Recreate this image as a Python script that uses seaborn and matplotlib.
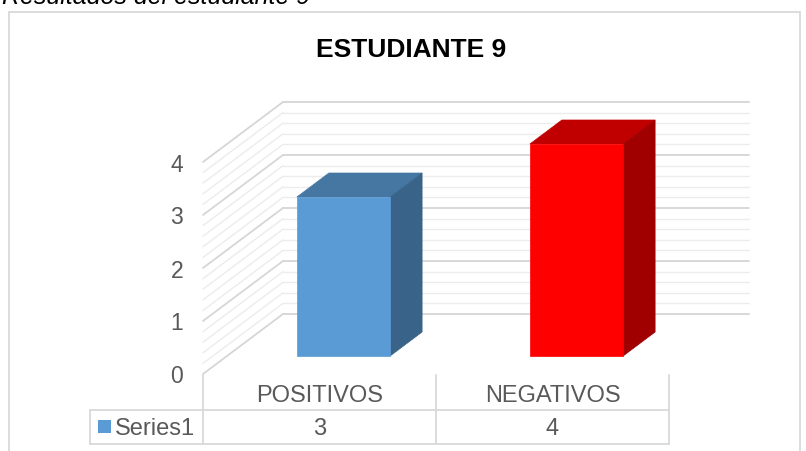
import matplotlib
matplotlib.use("Agg")
import matplotlib.pyplot as plt
import seaborn as sns
import numpy as np
from matplotlib.patches import Polygon, Rectangle

# datos del grafico
categorias = ["POSITIVOS", "NEGATIVOS"]
valores = [3, 4]
serie = "Series1"
titulo = "ESTUDIANTE 9"
leyenda_fig = "Resultados del estudiante 9"
ticks_y = [0, 1, 2, 3, 4]

caras_frente = ["#5B9BD5", "#FF0000"]
caras_arriba = ["#4677A2", "#C00000"]
caras_lado = ["#396389", "#A00000"]

sns.set_theme(style="white")
plt.rcParams['font.family'] = ['Liberation Sans', 'DejaVu Sans']

W, H = 806, 452
fig = plt.figure(figsize=(W / 100, H / 100), dpi=100)

# plano frontal: x de -0.5 a 1.5 -> px 203..669 ; y 0..4 -> px 375..163
ax = fig.add_axes([203 / W, 1 - 375 / H, 466 / W, 212 / H])
ax.set_xlim(-0.5, 1.5)
ax.set_ylim(0, 4)
ax.axis("off")

px_x = 466 / 2.0   # px por categoria
px_y = 212 / 4.0   # px por unidad
DX = 80 / px_x     # profundidad en unidades de datos
DY = 60 / px_y


def proy(x, v, d):
    return (x + d * DX, v + d * DY)


# paredes con lineas de cuadricula
for v in np.arange(0, 4.001, 0.2):
    mayor = abs(v - round(v)) < 1e-6
    col = "#D6D6D6" if mayor else "#ECECEC"
    lw = 1.3 if mayor else 1.0
    a, b = proy(-0.5, v, 1), proy(1.5, v, 1)
    ax.plot([a[0], b[0]], [a[1], b[1]], color=col, lw=lw, clip_on=False, zorder=1)
    a, b = proy(-0.5, v, 0), proy(-0.5, v, 1)
    ax.plot([a[0], b[0]], [a[1], b[1]], color=col, lw=lw, clip_on=False, zorder=1)

# caras frontales con seaborn
ancho = 0.4
f0, f1 = 0.3, 0.7
sns.barplot(x=categorias, y=valores, hue=categorias, palette=caras_frente,
            width=ancho, legend=False, ax=ax, saturation=1, zorder=4)
ax.set_xlim(-0.5, 1.5)
ax.set_ylim(0, 4)
ax.axis("off")

for i, p in enumerate(ax.patches):
    p.set_x(p.get_x() + f0 * DX)
    p.set_y(p.get_y() + f0 * DY)
    p.set_edgecolor(caras_frente[i])
    p.set_linewidth(0.5)
    p.set_clip_on(False)
    x0 = i - ancho / 2
    x1 = i + ancho / 2
    v = valores[i]
    arriba = [proy(x0, v, f0), proy(x1, v, f0), proy(x1, v, f1), proy(x0, v, f1)]
    lado = [proy(x1, 0, f0), proy(x1, v, f0), proy(x1, v, f1), proy(x1, 0, f1)]
    ax.add_patch(Polygon(arriba, closed=True, facecolor=caras_arriba[i],
                         edgecolor=caras_arriba[i], lw=0.5, clip_on=False, zorder=3))
    ax.add_patch(Polygon(lado, closed=True, facecolor=caras_lado[i],
                         edgecolor=caras_lado[i], lw=0.5, clip_on=False, zorder=3))

# etiquetas del eje y (plano frontal)
for t in ticks_y:
    ax.text(-0.5 - 20 / px_x, t - 2 / px_y, str(t), ha="right", va="center",
            fontsize=16.5, color="#595959")

# tabla de datos
def dy(py):
    return (375 - py) / px_y

def dx(pxx):
    return -0.5 + (pxx - 203) / px_x

gris = "#D9D9D9"
for xb in [-0.5, 0.5, 1.5]:
    ax.plot([xb, xb], [dy(376), dy(445)], color=gris, lw=1.3, clip_on=False)
ax.plot([dx(90), 1.5], [dy(411), dy(411)], color=gris, lw=1.3, clip_on=False)
ax.plot([dx(90), 1.5], [dy(445), dy(445)], color=gris, lw=1.3, clip_on=False)
ax.plot([dx(90), dx(90)], [dy(411), dy(445)], color=gris, lw=1.3, clip_on=False)

for i, c in enumerate(categorias):
    ax.text(i, dy(396), c, ha="center", va="center", fontsize=17, color="#595959")
    ax.text(i, dy(429), str(valores[i]), ha="center", va="center", fontsize=17,
            color="#595959")

ax.add_patch(Rectangle((dx(98), dy(434)), 13 / px_x, 13 / px_y, facecolor=caras_frente[0],
                       edgecolor="none", clip_on=False))
ax.text(dx(115), dy(429), serie, ha="left", va="center", fontsize=17, color="#595959")

# marco del grafico
fig.patches.append(Rectangle((9 / W, -0.05), 791 / W, 1 - 13 / H + 0.05,
                             transform=fig.transFigure, fill=False,
                             edgecolor=gris, lw=1.3, zorder=0))

fig.text(411 / W, 1 - 50 / H, titulo, ha="center", va="center", fontsize=19,
         fontweight="bold", color="black")
fig.text(2 / W, 1 - 4 / H, leyenda_fig, ha="left", va="baseline", fontsize=18,
         style="italic", color="black")

fig.savefig("out.png", dpi=100)
